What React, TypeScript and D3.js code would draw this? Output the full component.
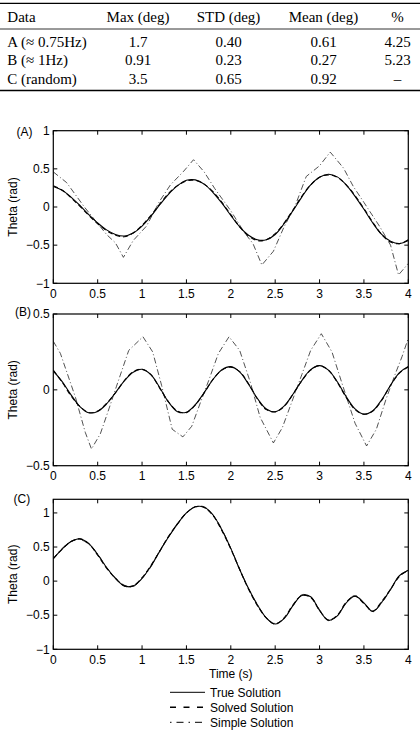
import React from "react";
import * as d3 from "d3";

const W = 420;
const H = 732;

// table at the top
const tableHeader = ["Data", "Max (deg)", "STD (deg)", "Mean (deg)", "%"];
const tableData = ["A (≈ 0.75Hz)", "B (≈ 1Hz)", "C (random)"];
const tableMax = ["1.7", "0.91", "3.5"];
const tableStd = ["0.40", "0.23", "0.65"];
const tableMean = ["0.61", "0.27", "0.92"];
const tablePct = ["4.25", "5.23", "–"];

// sample times (s) for the true / solved curves
const sampleTime = [
  0, 0.1, 0.2, 0.3, 0.4, 0.5, 0.6, 0.7, 0.8, 0.9, 1, 1.1, 1.2, 1.3, 1.4, 1.5, 1.6, 1.7, 1.8, 1.9, 2,
  2.1, 2.2, 2.3, 2.4, 2.5, 2.6, 2.7, 2.8, 2.9, 3, 3.1, 3.2, 3.3, 3.4, 3.5, 3.6, 3.7, 3.8, 3.9, 4,
];

// panel A
const trueA = [
  0.27, 0.22, 0.13, 0.02, -0.1, -0.21, -0.3, -0.36, -0.38, -0.34, -0.25, -0.12, 0.03, 0.17, 0.28, 0.35,
  0.355, 0.3, 0.19, 0.05, -0.11, -0.26, -0.37, -0.43, -0.43, -0.36, -0.22, -0.05, 0.13, 0.29, 0.39, 0.43,
  0.395, 0.29, 0.14, -0.03, -0.21, -0.36, -0.45, -0.48, -0.44,
];
const solvedA = [
  0.28, 0.22, 0.12, 0.01, -0.11, -0.22, -0.31, -0.37, -0.39, -0.34, -0.24, -0.11, 0.04, 0.18, 0.28, 0.34,
  0.35, 0.3, 0.2, 0.06, -0.1, -0.26, -0.38, -0.44, -0.43, -0.35, -0.21, -0.04, 0.14, 0.29, 0.39, 0.42,
  0.39, 0.29, 0.15, -0.02, -0.2, -0.36, -0.46, -0.48, -0.43,
];
const simpleATime = [
  0, 0.15, 0.35, 0.6, 0.7, 0.79, 0.9, 1.05, 1.2, 1.32, 1.47, 1.58, 1.7, 1.82, 2.0, 2.15, 2.25, 2.35,
  2.48, 2.6, 2.72, 2.85, 3.0, 3.12, 3.27, 3.38, 3.5, 3.68, 3.8, 3.89, 4,
];
const simpleA = [
  0.46, 0.32, 0.0, -0.36, -0.47, -0.66, -0.44, -0.25, 0.08, 0.29, 0.47, 0.62, 0.46, 0.24, -0.05, -0.33,
  -0.48, -0.76, -0.58, -0.26, 0.0, 0.4, 0.54, 0.72, 0.51, 0.27, 0.06, -0.26, -0.5, -0.89, -0.74,
];

// panel B
const trueB = [
  0.125, 0.054, -0.033, -0.11, -0.151, -0.142, -0.093, -0.019, 0.059, 0.116, 0.136, 0.1, 0.014, -0.082,
  -0.144, -0.147, -0.098, -0.018, 0.069, 0.133, 0.153, 0.118, 0.037, -0.057, -0.126, -0.144, -0.107,
  -0.029, 0.061, 0.133, 0.16, 0.13, 0.053, -0.045, -0.126, -0.161, -0.138, -0.065, 0.03, 0.114, 0.154,
];
const solvedB = [
  0.13, 0.05, -0.04, -0.11, -0.15, -0.14, -0.09, -0.02, 0.06, 0.12, 0.135, 0.1, 0.01, -0.08, -0.14,
  -0.15, -0.1, -0.02, 0.07, 0.13, 0.15, 0.12, 0.04, -0.06, -0.13, -0.145, -0.11, -0.03, 0.06, 0.13, 0.16,
  0.13, 0.05, -0.05, -0.13, -0.16, -0.14, -0.07, 0.03, 0.11, 0.15,
];
const simpleBTime = [
  0, 0.08, 0.25, 0.36, 0.43, 0.53, 0.63, 0.71, 0.85, 1.01, 1.12, 1.22, 1.34, 1.46, 1.56, 1.66, 1.75, 1.86,
  1.98, 2.1, 2.22, 2.33, 2.48, 2.58, 2.7, 2.8, 2.9, 3.02, 3.14, 3.26, 3.4, 3.53, 3.64, 3.75, 3.85, 3.93, 4,
];
const simpleB = [
  0.32, 0.24, -0.05, -0.28, -0.39, -0.29, -0.12, 0.02, 0.26, 0.35, 0.25, 0.03, -0.26, -0.31, -0.24, -0.08,
  0.06, 0.24, 0.35, 0.26, 0.05, -0.18, -0.35, -0.25, -0.06, 0.1, 0.26, 0.37, 0.25, 0.03, -0.22, -0.37,
  -0.26, -0.06, 0.1, 0.22, 0.34,
];

// panel C
const trueC = [
  0.33, 0.47, 0.58, 0.62, 0.55, 0.39, 0.2, 0.04, -0.07, -0.07, 0.04, 0.22, 0.44, 0.65, 0.84, 1.0, 1.09,
  1.085, 0.97, 0.75, 0.48, 0.17, -0.11, -0.35, -0.54, -0.63, -0.55, -0.36, -0.21, -0.23, -0.43, -0.575,
  -0.51, -0.32, -0.22, -0.32, -0.445, -0.31, -0.12, 0.08, 0.16,
];
const solvedC = [
  0.33, 0.47, 0.58, 0.62, 0.55, 0.38, 0.19, 0.04, -0.07, -0.07, 0.05, 0.23, 0.44, 0.66, 0.84, 1.0, 1.09,
  1.08, 0.96, 0.74, 0.47, 0.17, -0.12, -0.36, -0.54, -0.63, -0.54, -0.35, -0.21, -0.24, -0.43, -0.57,
  -0.5, -0.31, -0.22, -0.33, -0.44, -0.3, -0.12, 0.07, 0.16,
];
const simpleC = [
  0.33, 0.48, 0.58, 0.61, 0.54, 0.4, 0.2, 0.05, -0.06, -0.08, 0.04, 0.21, 0.45, 0.65, 0.85, 1.0, 1.09,
  1.09, 0.97, 0.76, 0.48, 0.18, -0.11, -0.34, -0.54, -0.62, -0.55, -0.36, -0.2, -0.23, -0.42, -0.58,
  -0.51, -0.32, -0.21, -0.32, -0.45, -0.32, -0.13, 0.08, 0.16,
];

const xTicks = [0, 0.5, 1, 1.5, 2, 2.5, 3, 3.5, 4];
const legendLabels = ["True Solution", "Solved Solution", "Simple Solution"];

const SANS = "'Liberation Sans', Arial, sans-serif";
const SERIF = "'Liberation Serif', 'Times New Roman', serif";

const lineStyles = [
  { dash: "none", width: 1.1, color: "#000" },
  { dash: "5 3", width: 1.1, color: "#000" },
  { dash: "6 2.5 1 2.5", width: 0.85, color: "#333" },
];

const fmt = (d: number) => (d < 0 ? "\u2212" + Math.abs(d) : String(d));

const plotLeft = 53.3;
const plotRight = 408.3;

type Series = { t: number[]; v: number[]; style: number; curve: d3.CurveFactory };

function Panel({ top, bottom, yDomain, yTicks, label, labelX, labelY, series }: {
  top: number; bottom: number; yDomain: [number, number]; yTicks: number[]; label: string;
  labelX: number; labelY: number; series: Series[];
}) {
  const x = d3.scaleLinear().domain([0, 4]).range([plotLeft, plotRight]);
  const y = d3.scaleLinear().domain(yDomain).range([bottom, top]);
  const tick = 4;
  return (
    <g>
      <defs>
        <clipPath id={"clip" + label}>
          <rect x={plotLeft} y={top} width={plotRight - plotLeft} height={bottom - top} />
        </clipPath>
      </defs>
      <g clipPath={`url(#clip${label})`}>
        {series.map((s, i) => {
          const st = lineStyles[s.style];
          const gen = d3.line<number>().x((_, j) => x(s.t[j])).y((d) => y(d)).curve(s.curve);
          return (
            <path key={i} d={gen(s.v) || ""} fill="none" stroke={st.color} strokeWidth={st.width}
              strokeDasharray={st.dash === "none" ? undefined : st.dash} strokeLinejoin="round" />
          );
        })}
      </g>
      {/* ticks on all four sides, pointing in */}
      {xTicks.map((t) => (
        <g key={"xt" + t}>
          <line x1={x(t)} x2={x(t)} y1={bottom} y2={bottom - tick} stroke="#000" />
          <line x1={x(t)} x2={x(t)} y1={top} y2={top + tick} stroke="#000" />
          <text x={x(t)} y={bottom + 14.5} textAnchor="middle" fontSize={12} fontFamily={SANS}>{fmt(t)}</text>
        </g>
      ))}
      {yTicks.map((t) => (
        <g key={"yt" + t}>
          <line x1={plotLeft} x2={plotLeft + tick} y1={y(t)} y2={y(t)} stroke="#000" />
          <line x1={plotRight} x2={plotRight - tick} y1={y(t)} y2={y(t)} stroke="#000" />
          <text x={plotLeft - 3.5} y={y(t)} dy="0.35em" textAnchor="end" fontSize={12} fontFamily={SANS}>{fmt(t)}</text>
        </g>
      ))}
      <rect x={plotLeft} y={top} width={plotRight - plotLeft} height={bottom - top} fill="none" stroke="#000" strokeWidth={1.2} />
      <text x={labelX} y={labelY} dy="0.35em" fontSize={12} fontFamily={SANS}>{`(${label})`}</text>
      <text transform={`translate(12.5,${(top + bottom) / 2}) rotate(-90)`} textAnchor="middle" dy="0.35em"
        fontSize={12} fontFamily={SANS}>Theta (rad)</text>
    </g>
  );
}

export default function App() {
  const colX = [7.3, 138, 228.5, 323.5, 397.5];
  const rowY = [46.5, 65, 83.5];
  const cols = [tableData, tableMax, tableStd, tableMean, tablePct];
  const smooth = d3.curveCatmullRom.alpha(0.5);

  return (
    <div style={{ position: "absolute", left: 0, top: 0 }}>
      <svg width={W} height={H} viewBox={`0 0 ${W} ${H}`} style={{ display: "block", background: "#fff" }}>
        {/* table */}
        <line x1={0} x2={W} y1={3.3} y2={3.3} stroke="#000" strokeWidth={1.3} />
        <line x1={0} x2={W} y1={29} y2={29} stroke="#000" strokeWidth={0.8} />
        <line x1={0} x2={W} y1={90.5} y2={90.5} stroke="#000" strokeWidth={1.3} />
        {tableHeader.map((h, i) => (
          <text key={h} x={colX[i]} y={21.5} textAnchor={i === 0 ? "start" : "middle"} fontSize={15} fontFamily={SERIF}>{h}</text>
        ))}
        {cols.map((col, i) =>
          col.map((v, r) => (
            <text key={i + "-" + r} x={colX[i]} y={rowY[r]} textAnchor={i === 0 ? "start" : "middle"} fontSize={15} fontFamily={SERIF}>{v}</text>
          ))
        )}

        <Panel top={130.7} bottom={283.3} yDomain={[-1, 1]} yTicks={[-1, -0.5, 0, 0.5, 1]} label="A"
          labelX={16.5} labelY={131.5}
          series={[
            { t: simpleATime, v: simpleA, style: 2, curve: d3.curveLinear },
            { t: sampleTime, v: solvedA, style: 1, curve: smooth },
            { t: sampleTime, v: trueA, style: 0, curve: smooth },
          ]} />
        <Panel top={314} bottom={465.7} yDomain={[-0.5, 0.5]} yTicks={[-0.5, 0, 0.5]} label="B"
          labelX={15} labelY={311.5}
          series={[
            { t: simpleBTime, v: simpleB, style: 2, curve: d3.curveLinear },
            { t: sampleTime, v: solvedB, style: 1, curve: smooth },
            { t: sampleTime, v: trueB, style: 0, curve: smooth },
          ]} />
        <Panel top={499.3} bottom={649.3} yDomain={[-1, 1.2]} yTicks={[-1, -0.5, 0, 0.5, 1]} label="C"
          labelX={13.5} labelY={499}
          series={[
            { t: sampleTime, v: simpleC, style: 2, curve: smooth },
            { t: sampleTime, v: solvedC, style: 1, curve: smooth },
            { t: sampleTime, v: trueC, style: 0, curve: smooth },
          ]} />

        <text x={(plotLeft + plotRight) / 2} y={678} textAnchor="middle" fontSize={12} fontFamily={SANS}>Time (s)</text>

        {/* legend */}
        {legendLabels.map((l, i) => {
          const ly = 692.3 + i * 15;
          const legendDash = ["none", "6 7.5", "1.5 5 7 5"][i];
          return (
            <g key={l}>
              <line x1={170} x2={205} y1={ly} y2={ly} stroke="#000" strokeWidth={i === 1 ? 1.6 : 1}
                strokeDasharray={legendDash === "none" ? undefined : legendDash} />
              <text x={210} y={ly} dy="0.35em" fontSize={12} fontFamily={SANS}>{l}</text>
            </g>
          );
        })}
      </svg>
    </div>
  );
}
